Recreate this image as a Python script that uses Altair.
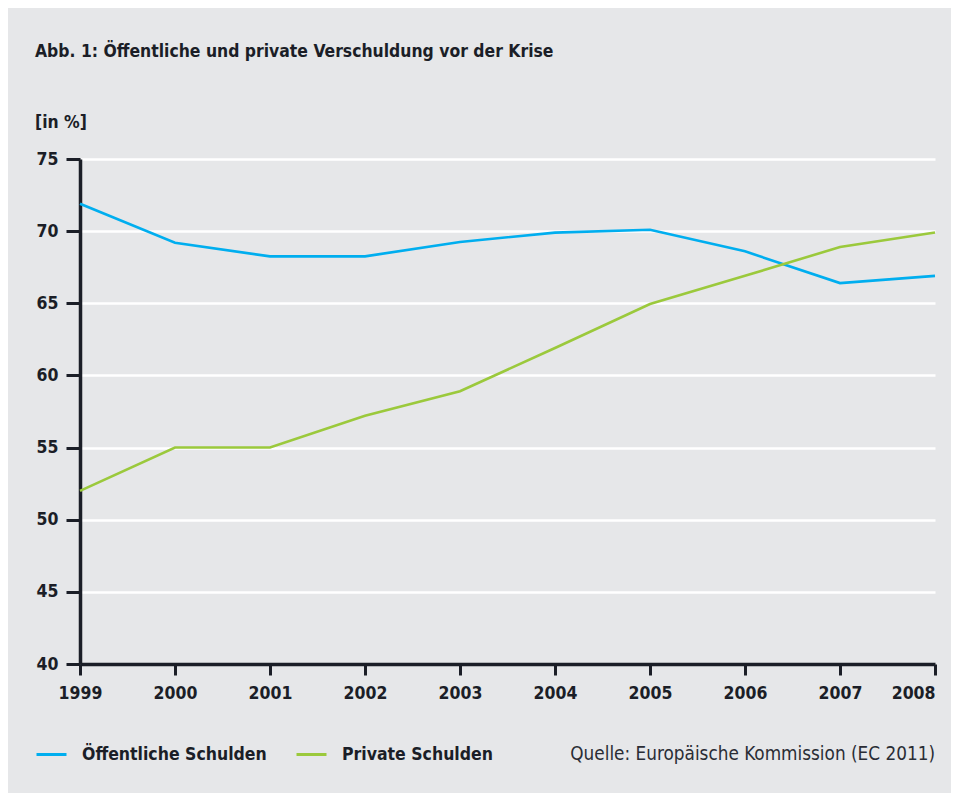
import altair as alt
import pandas as pd

years = [1999, 2000, 2001, 2002, 2003, 2004, 2005, 2006, 2007, 2008]
oeffentlich = [71.9, 69.2, 68.25, 68.25, 69.25, 69.9, 70.1, 68.6, 66.4, 66.9]
privat = [52.0, 55.0, 55.0, 57.2, 58.9, 61.9, 64.95, 66.9, 68.9, 69.9]
series_names = ["Öffentliche Schulden", "Private Schulden"]
series_colors = ["#00aeef", "#9bc93c"]
y_ticks = [40, 45, 50, 55, 60, 65, 70, 75]

title_text = "Abb. 1: Öffentliche und private Verschuldung vor der Krise"
unit_text = "[in %]"
source_text = "Quelle: Europäische Kommission (EC 2011)"

FONT = "DejaVu Sans Condensed, Liberation Sans Narrow, Roboto, sans-serif"
DARK = "#1b1e27"
BG = "#e6e7e9"

rows = []
for name, vals in zip(series_names, [oeffentlich, privat]):
    for yr, v in zip(years, vals):
        rows.append({"Jahr": yr, "Wert": v, "Serie": name})
df = pd.DataFrame(rows)

lines = alt.Chart(df).mark_line(strokeWidth=2.6).encode(
    x=alt.X("Jahr:Q",
            scale=alt.Scale(domain=[1999, 2008], nice=False, zero=False),
            axis=alt.Axis(values=years, format="d", title=None,
                          grid=False, domain=True, domainColor=DARK, domainWidth=3.5,
                          ticks=True, tickColor=DARK, tickWidth=3, tickSize=11,
                          labelFont=FONT, labelFontWeight="bold", labelFontSize=17.5,
                          labelColor=DARK, labelPadding=9,
                          labelAlign=alt.ExprRef(expr="datum.value == 2008 ? 'right' : 'center'"))),
    y=alt.Y("Wert:Q",
            scale=alt.Scale(domain=[40, 75], nice=False, zero=False),
            axis=alt.Axis(values=y_ticks, title=None,
                          grid=True, gridColor="white", gridWidth=2.5, gridOpacity=1,
                          domain=True, domainColor=DARK, domainWidth=3.5,
                          ticks=True, tickColor=DARK, tickWidth=3, tickSize=14,
                          labelFont=FONT, labelFontWeight="bold", labelFontSize=17.5,
                          labelColor=DARK, labelPadding=8)),
    color=alt.Color("Serie:N",
                    scale=alt.Scale(domain=series_names, range=series_colors),
                    sort=series_names,
                    legend=alt.Legend(title=None, orient="none", direction="horizontal",
                                      legendX=-45, legendY=579,
                                      symbolType="stroke", symbolSize=900, symbolStrokeWidth=3,
                                      labelFont=FONT, labelFontWeight="bold", labelFontSize=17.5,
                                      labelColor=DARK, labelOffset=14, labelLimit=400,
                                      columnPadding=23)),
)

def text_layer(txt, x, y, size, weight, align="left", color=DARK):
    return alt.Chart(pd.DataFrame({"t": [txt]})).mark_text(
        font=FONT, fontSize=size, fontWeight=weight, align=align,
        baseline="alphabetic", color=color
    ).encode(text="t:N", x=alt.value(x), y=alt.value(y))

title_l = text_layer(title_text, -45, -102, 17.4, "bold")
unit_l = text_layer(unit_text, -45, -31, 17.4, "bold")
source_l = text_layer(source_text, 855, 601, 18.8, "normal", align="right", color="#2a2d35")

chart = alt.layer(lines, title_l, unit_l, source_l).properties(
    width=855, height=505,
    autosize=alt.AutoSizeParams(type="none"),
    padding={"left": 72, "top": 151, "right": 16, "bottom": 129},
    background=BG,
).configure_view(stroke=None, fill=BG)

chart.save("out.html", embed_options={"renderer": "svg", "actions": False})
